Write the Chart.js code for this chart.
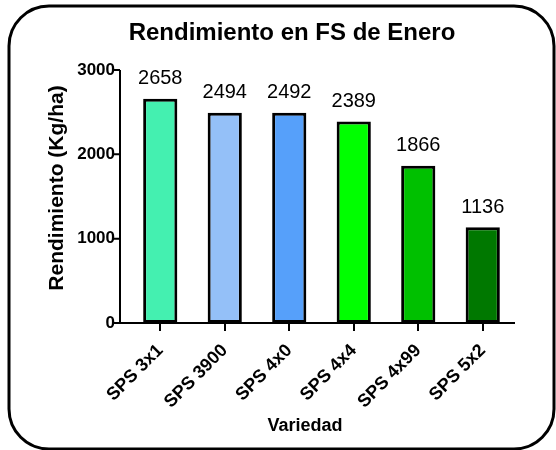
<!DOCTYPE html>
<html>
<head>
<meta charset="utf-8">
<script src="https://cdn.jsdelivr.net/npm/chart.js@4"></script>
<style>
  html, body { margin: 0; padding: 0; background: #fff; }
  #wrap { width: 556px; height: 450px; position: relative; }
</style>
</head>
<body>
<div id="wrap"><canvas id="chart" width="556" height="450"></canvas></div>
<script>
// --- Chart data ---
const variedades = ['SPS 3x1', 'SPS 3900', 'SPS 4x0', 'SPS 4x4', 'SPS 4x99', 'SPS 5x2'];
const rendimiento = [2658, 2494, 2492, 2389, 1866, 1136];
const barColors = ['#44F0B0', '#94C0F8', '#56A0FA', '#00FF00', '#00C000', '#007800'];
const yTicks = [0, 1000, 2000, 3000];

const chartTitle = 'Rendimiento en FS de Enero';
const xTitle = 'Variedad';
const yTitle = 'Rendimiento (Kg/ha)';

const FONT = '"Liberation Sans", Arial, Helvetica, sans-serif';

// --- Frame, titles, axis lines and value labels ---
const decorations = {
    id: 'decorations',
    beforeDraw(chart) {
        const ctx = chart.ctx;
        ctx.save();
        ctx.fillStyle = '#fff';
        ctx.fillRect(0, 0, chart.width, chart.height);
        ctx.lineWidth = 3;
        ctx.strokeStyle = '#000';
        ctx.beginPath();
        ctx.roundRect(9, 6, 545, 443, 40);
        ctx.stroke();

        // titles
        ctx.fillStyle = '#000';
        ctx.textAlign = 'center';
        ctx.textBaseline = 'middle';
        ctx.font = 'bold 24px ' + FONT;
        ctx.fillText(chartTitle, 292, 33);
        ctx.font = 'bold 18px ' + FONT;
        ctx.fillText(xTitle, 305, 426);
        ctx.translate(57, 188);
        ctx.rotate(-Math.PI / 2);
        ctx.font = 'bold 21px ' + FONT;
        ctx.fillText(yTitle, 0, 0);
        ctx.restore();
    },
    afterDatasetsDraw(chart) {
        const ctx = chart.ctx;
        const area = chart.chartArea;
        const y = chart.scales.y;
        const axisX = area.left - 8;
        ctx.save();
        ctx.strokeStyle = '#000';
        ctx.lineWidth = 2;
        ctx.beginPath();
        ctx.moveTo(axisX, y.getPixelForValue(3000));
        ctx.lineTo(axisX, y.getPixelForValue(0));
        ctx.moveTo(axisX - 1, y.getPixelForValue(0));
        ctx.lineTo(area.right, y.getPixelForValue(0));
        yTicks.forEach(v => {
            const py = y.getPixelForValue(v);
            ctx.moveTo(axisX - 7, py);
            ctx.lineTo(axisX, py);
        });
        ctx.stroke();

        // values above bars
        ctx.fillStyle = '#000';
        ctx.font = '20px ' + FONT;
        ctx.textAlign = 'center';
        ctx.textBaseline = 'middle';
        chart.getDatasetMeta(0).data.forEach((bar, i) => {
            ctx.fillText(String(rendimiento[i]), bar.x, bar.y - 20);
        });
        ctx.restore();
    }
};

new Chart(document.getElementById('chart'), {
    type: 'bar',
    data: {
        labels: variedades,
        datasets: [{
            data: rendimiento,
            backgroundColor: barColors,
            borderColor: '#000',
            borderWidth: 3,
            borderSkipped: false,
            barPercentage: 0.53,
            categoryPercentage: 1
        }]
    },
    options: {
        responsive: false,
        animation: false,
        layout: { padding: { top: 70, right: 41, left: 12, bottom: 0 } },
        plugins: {
            legend: { display: false },
            tooltip: { enabled: false },
            title: { display: false }
        },
        scales: {
            x: {
                grid: { display: true, drawOnChartArea: false, offset: false, drawTicks: true, tickLength: 8, color: '#000', lineWidth: 2 },
                border: { display: false },
                ticks: {
                    color: '#000',
                    font: { family: FONT, size: 18, weight: 'bold' },
                    minRotation: 45,
                    maxRotation: 45,
                    padding: 9,
                    autoSkip: false
                },
                afterFit(scale) { scale.height = 127; }
            },
            y: {
                min: 0,
                max: 3000,
                grid: { display: false, drawTicks: false },
                border: { display: false },
                afterBuildTicks(scale) { scale.ticks = yTicks.map(v => ({ value: v })); },
                ticks: {
                    color: '#000',
                    font: { family: FONT, size: 17, weight: 'bold' },
                    padding: 13,
                    callback: v => String(v)
                },
                afterFit(scale) { scale.width = 116; }
            }
        }
    },
    plugins: [decorations]
});
</script>
</body>
</html>
